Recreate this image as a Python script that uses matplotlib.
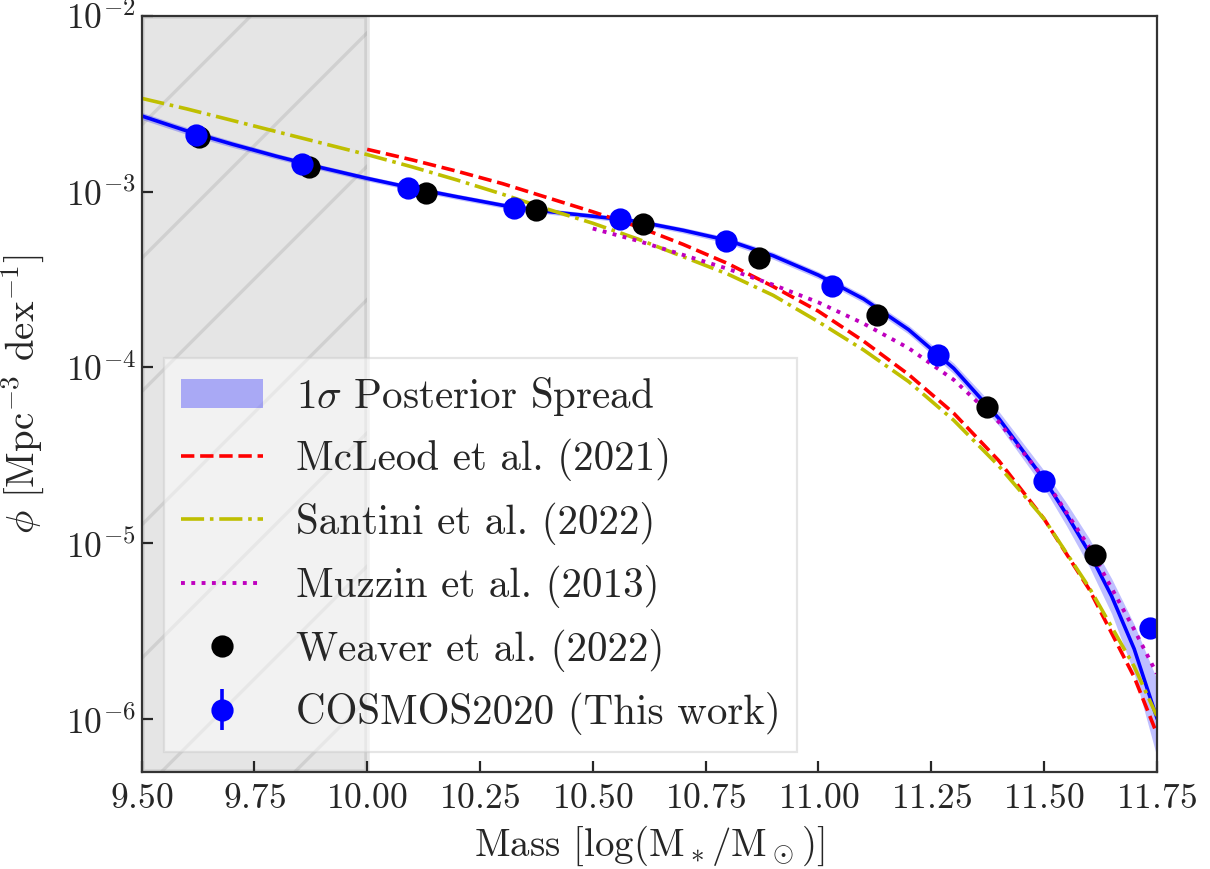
import numpy as np
import matplotlib
matplotlib.use("Agg")
import matplotlib.pyplot as plt
from matplotlib.ticker import NullLocator, MultipleLocator
from matplotlib.patches import Patch
from matplotlib.lines import Line2D

plt.rcParams['font.family'] = 'serif'
plt.rcParams['font.serif'] = ['cmr10']
plt.rcParams['mathtext.fontset'] = 'cm'
plt.rcParams['axes.formatter.use_mathtext'] = True
plt.rcParams['hatch.linewidth'] = 0.6

# binned stellar mass function, COSMOS2020 (this work)
cosmos_mass = [9.62, 9.855, 10.09, 10.325, 10.56, 10.795, 11.03, 11.265, 11.50, 11.735]
cosmos_logphi = [-2.678, -2.842, -2.979, -3.093, -3.155, -3.280, -3.536, -3.928, -4.644, -5.479]
cosmos_err = [0.01, 0.01, 0.01, 0.01, 0.01, 0.012, 0.015, 0.02, 0.03, 0.05]  # dex, hidden by markers

# Weaver et al. (2022)
weaver_mass = [9.627, 9.871, 10.131, 10.375, 10.612, 10.869, 11.131, 11.374, 11.613]
weaver_logphi = [-2.690, -2.860, -3.008, -3.104, -3.184, -3.377, -3.701, -4.224, -5.065]

# best-fit curve and 1 sigma spread (dex)
fit_mass = [9.50, 9.60, 9.70, 9.80, 9.90, 10.00, 10.10, 10.20, 10.30, 10.40, 10.50, 10.60,
            10.70, 10.80, 10.90, 11.00, 11.10, 11.20, 11.30, 11.40, 11.50, 11.55, 11.60,
            11.65, 11.70, 11.75]
fit_logphi = [-2.57, -2.655, -2.73, -2.80, -2.865, -2.925, -2.98, -3.03, -3.078, -3.113, -3.14,
              -3.17, -3.22, -3.278, -3.365, -3.475, -3.61, -3.785, -4.005, -4.29, -4.635, -4.835,
              -5.05, -5.30, -5.60, -5.99]
fit_spread = [0.02, 0.02, 0.018, 0.016, 0.015, 0.015, 0.015, 0.015, 0.015, 0.015, 0.015, 0.015,
              0.016, 0.018, 0.02, 0.02, 0.022, 0.025, 0.03, 0.04, 0.05, 0.065, 0.08,
              0.10, 0.14, 0.22]

# literature fits
mcleod_mass = [10.0, 10.1, 10.2, 10.3, 10.4, 10.5, 10.6, 10.7, 10.8, 10.9, 11.0, 11.1,
               11.2, 11.3, 11.4, 11.5, 11.6, 11.7, 11.75]
mcleod_logphi = [-2.76, -2.82, -2.885, -2.955, -3.035, -3.115, -3.20, -3.30, -3.41, -3.54,
                 -3.68, -3.85, -4.04, -4.26, -4.53, -4.86, -5.26, -5.76, -6.08]

santini_mass = [9.5, 9.6, 9.7, 9.8, 9.9, 10.0, 10.1, 10.2, 10.3, 10.4, 10.5, 10.6, 10.7,
                10.8, 10.9, 11.0, 11.1, 11.2, 11.3, 11.4, 11.5, 11.6, 11.7, 11.75]
santini_logphi = [-2.47, -2.53, -2.595, -2.66, -2.725, -2.79, -2.86, -2.935, -3.015, -3.10,
                  -3.18, -3.27, -3.37, -3.47, -3.59, -3.74, -3.90, -4.08, -4.30, -4.56,
                  -4.86, -5.25, -5.70, -5.98]

muzzin_mass = [10.5, 10.6, 10.7, 10.8, 10.9, 11.0, 11.1, 11.2, 11.3, 11.4, 11.5, 11.6,
               11.7, 11.75]
muzzin_logphi = [-3.21, -3.28, -3.36, -3.44, -3.53, -3.63, -3.75, -3.89, -4.07, -4.31,
                 -4.63, -5.02, -5.49, -5.74]

fig = plt.figure(figsize=(3.025, 2.1725), dpi=400)
ax = fig.add_axes([0.117, 0.1113, 0.839, 0.8707])

ax.axvspan(9.5, 10.0, color='gray', alpha=0.2, hatch='/')

fm = np.array(fit_mass)
fl = np.array(fit_logphi)
fs = np.array(fit_spread)
ax.fill_between(fm, 10**(fl - fs), 10**(fl + fs), color='b', alpha=0.25, lw=0)
ax.plot(fm, 10**fl, color='b', lw=0.65)

ax.plot(mcleod_mass, 10**np.array(mcleod_logphi), 'r--', lw=0.65)
ax.plot(santini_mass, 10**np.array(santini_logphi), 'y-.', lw=0.65)
ax.plot(muzzin_mass, 10**np.array(muzzin_logphi), 'm:', lw=0.7)

ax.plot(weaver_mass, 10**np.array(weaver_logphi), 'o', color='k', ms=3.0)

cl = np.array(cosmos_logphi)
ce = np.array(cosmos_err)
yerr = [10**cl - 10**(cl - ce), 10**(cl + ce) - 10**cl]
ax.errorbar(cosmos_mass, 10**cl, yerr=yerr, fmt='o', color='b', ms=3.0, lw=0.65)

ax.set_yscale('log')
ax.set_xlim(9.5, 11.75)
ax.set_ylim(5.0e-7, 1e-2)
ax.xaxis.set_major_locator(MultipleLocator(0.25))
ax.yaxis.set_minor_locator(NullLocator())

ax.tick_params(direction='in', length=2, width=0.4, labelsize=6.4, colors='.15')
ax.tick_params(axis='x', pad=2)
ax.tick_params(axis='y', pad=1)
for s in ax.spines.values():
    s.set_linewidth(0.4)
    s.set_color('.2')

ax.set_xlabel(r'Mass [$\log(\mathrm{M}_*/\mathrm{M}_\odot)$]', fontsize=7.0, color='.15', labelpad=1.5)
ax.set_ylabel(r'$\phi$ [Mpc$^{-3}$ dex$^{-1}$]', fontsize=7.0, color='.15', labelpad=3.5)

handles = [
    Patch(facecolor='b', alpha=0.3, lw=0),
    Line2D([], [], color='r', ls='--', lw=0.65),
    Line2D([], [], color='y', ls='-.', lw=0.65),
    Line2D([], [], color='m', ls=':', lw=0.7),
    Line2D([], [], color='k', marker='o', ls='none', ms=3.0),
    ax.containers[0],
]
labels = [r'$1\sigma$ Posterior Spread', 'McLeod et al. (2021)', 'Santini et al. (2022)',
          'Muzzin et al. (2013)', 'Weaver et al. (2022)', 'COSMOS2020 (This work)']
leg = ax.legend(handles, labels, loc='lower left', fontsize=7.4, framealpha=0.5,
                fancybox=False, bbox_to_anchor=(0.002, 0.0))
leg.get_frame().set_edgecolor('0.8')
leg.get_frame().set_linewidth(0.4)
for t in leg.get_texts():
    t.set_color('.15')

fig.savefig('out.png', dpi=400)
